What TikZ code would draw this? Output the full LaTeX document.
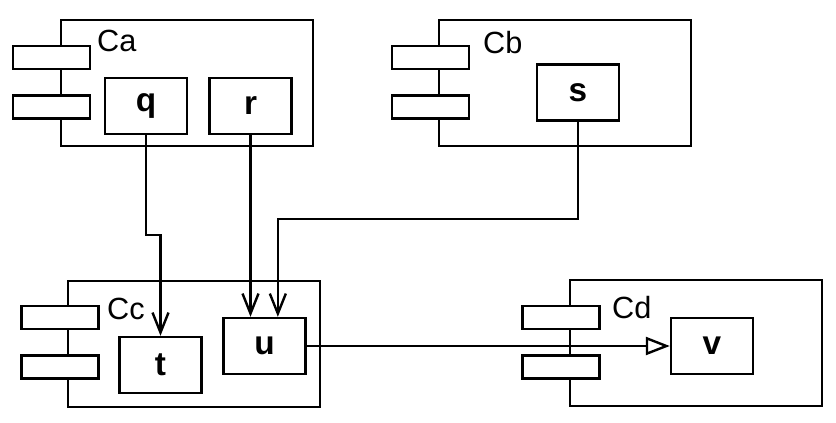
\documentclass[tikz,border=0pt]{standalone}
\usepackage{fontspec}
\setmainfont{Liberation Sans}
\usetikzlibrary{arrows.meta}

\tikzset{every picture/.style={line width=1.8pt}}
\tikzset{
  comp/.style={draw, anchor=north west, inner sep=0pt, minimum width=189pt, minimum height=94.5pt},
  port/.style={draw, fill=white, inner sep=0pt, minimum width=57.75pt, minimum height=17.25pt},
  part/.style={draw, fill=white, inner sep=0pt, minimum width=61.5pt, minimum height=42pt, font=\fontsize{25pt}{29pt}\selectfont\bfseries},
  cname/.style={anchor=base west, inner sep=0pt, font=\fontsize{23pt}{27pt}\selectfont},
  barb/.style={-{Straight Barb[length=15pt,width=12pt]}},
  hollow/.style={-{Triangle[open,length=18pt,width=13.5pt]}}
}

\begin{document}
\begin{tikzpicture}[x=0.75pt,y=0.75pt,yscale=-1,xscale=1]
\useasboundingbox (0,0) rectangle (836,422);

%Shape: Rectangle
\node[comp] (Ca) at (60,19) {};
%Shape: Rectangle
\node[comp] (Cb) at (438,19) {};
%Shape: Rectangle
\node[comp] (Cc) at (67,280) {};
%Shape: Rectangle
\node[comp] (Cd) at (569,279) {};

%Shape: Rectangle
\node[port] (Ca1) at (51.5,57.5) {};
%Shape: Rectangle
\node[port] (Ca2) at (51.5,107) {};
%Shape: Rectangle
\node[port] (Cb1) at (430.5,57.5) {};
%Shape: Rectangle
\node[port] (Cb2) at (430.5,107) {};
%Shape: Rectangle
\node[port] (Cc1) at (60,317.5) {};
%Shape: Rectangle
\node[port] (Cc2) at (60,367) {};
%Shape: Rectangle
\node[port] (Cd1) at (561,317.5) {};
%Shape: Rectangle
\node[port] (Cd2) at (561,367) {};

%Shape: Rectangle
\node[part] (q) at (146,106) {q};
%Shape: Rectangle
\node[part] (r) at (250.5,106) {r};
%Shape: Rectangle
\node[part] (s) at (578,92.5) {s};
%Shape: Rectangle
\node[part] (t) at (160.5,365) {t};
%Shape: Rectangle
\node[part] (u) at (264.5,346) {u};
%Shape: Rectangle
\node[part] (v) at (712,346) {v};

%Straight Lines
\draw[barb] (q.south) -- (q.south |- 0,235) -| (t.north);
%Straight Lines
\draw[barb] (r.south) -- (r.south |- u.north);
%Straight Lines
\draw[barb] (s.south) -- (s.south |- 0,219) -| ([xshift=10pt]u.north);
%Straight Lines
\draw[hollow] (u.east) -- (v.west);

% Text Node
\node[cname] (laba) at (96,51) {Ca};
% Text Node
\node[cname] (labb) at (482,53) {Cb};
% Text Node
\node[cname] (labc) at (106,319) {Cc};
% Text Node
\node[cname] (labd) at (611,318) {Cd};

\end{tikzpicture}
\end{document}
